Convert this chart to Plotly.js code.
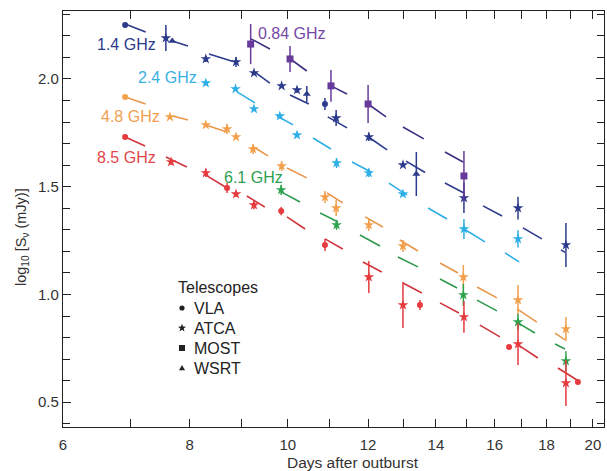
<!DOCTYPE html>
<html>
<head>
<meta charset="utf-8">
<script src="https://cdn.plot.ly/plotly-3.0.1.min.js"></script>
<style>html,body{margin:0;padding:0;background:#fff;}#chart{width:607px;height:471px;}</style>
</head>
<body>
<div id="chart"></div>
<script>
// ---- 1.4 GHz ----
const days14 = [6.91, 7.58, 7.69, 8.30, 8.89, 9.26, 9.86, 10.21, 10.44, 10.88, 11.16, 12.02, 12.99, 13.39, 14.92, 16.87, 18.81];
const flux14 = [2.251, 2.190, 2.176, 2.093, 2.079, 2.028, 1.968, 1.949, 1.930, 1.884, 1.819, 1.731, 1.601, 1.559, 1.448, 1.401, 1.230];
const err14  = [0, 0.060, 0, 0.014, 0.023, 0, 0, 0.014, 0.037, 0.028, 0.037, 0.019, 0.010, 0.102, 0.070, 0.053, 0.102];
const tel14  = ['VLA','ATCA','WSRT','ATCA','ATCA','ATCA','ATCA','ATCA','WSRT','VLA','ATCA','ATCA','ATCA','WSRT','ATCA','ATCA','ATCA'];
const seg14x0 = [6.91, 7.69, 8.36, 9.30, 10.05, 10.95, 12.05, 13.08, 14.29, 15.58, 17.06, 18.60];
const seg14y0 = [2.255, 2.176, 2.116, 2.028, 1.926, 1.824, 1.726, 1.619, 1.517, 1.411, 1.309, 1.207];
const seg14x1 = [7.24, 7.97, 8.83, 9.60, 10.49, 11.44, 12.53, 13.66, 14.92, 16.27, 17.81, 18.77];
const seg14y1 = [2.218, 2.153, 2.081, 1.981, 1.884, 1.773, 1.671, 1.566, 1.471, 1.364, 1.258, 1.195];

// ---- 0.84 GHz ----
const days084 = [9.19, 10.05, 11.03, 12.00, 14.92];
const flux084 = [2.162, 2.093, 1.968, 1.884, 1.550];
const err084  = [0.093, 0.060, 0.074, 0.088, 0.116];
const tel084  = ['MOST','MOST','MOST','MOST','MOST'];
const seg084x0 = [9.20, 10.09, 11.03, 12.00, 12.99, 14.29];
const seg084y0 = [2.186, 2.088, 1.968, 1.884, 1.777, 1.661];
const seg084x1 = [9.60, 10.44, 11.44, 12.50, 13.62, 14.89];
const seg084y1 = [2.139, 2.037, 1.930, 1.824, 1.722, 1.615];

// ---- 2.4 GHz ----
const days24 = [8.30, 8.88, 9.26, 9.82, 10.21, 11.17, 12.02, 12.99, 14.92, 16.87];
const flux24 = [1.981, 1.954, 1.861, 1.828, 1.740, 1.610, 1.564, 1.466, 1.304, 1.258];
const err24  = [0, 0, 0, 0, 0, 0.023, 0.019, 0, 0.046, 0.040];
const tel24  = ['ATCA','ATCA','ATCA','ATCA','ATCA','ATCA','ATCA','ATCA','ATCA','ATCA'];
const seg24x0 = [8.91, 9.76, 10.59, 11.57, 12.58, 13.75, 14.92, 16.38];
const seg24y0 = [1.940, 1.828, 1.726, 1.615, 1.517, 1.401, 1.304, 1.193];
const seg24x1 = [9.28, 10.12, 11.03, 12.08, 13.11, 14.36, 15.65, 16.91];
const seg24y1 = [1.889, 1.787, 1.675, 1.568, 1.462, 1.350, 1.244, 1.151];

// ---- 4.8 GHz ----
const days48 = [6.91, 7.65, 8.30, 8.71, 8.89, 9.24, 9.86, 10.88, 11.16, 12.02, 12.99, 14.90, 16.87, 18.81];
const flux48 = [1.916, 1.824, 1.787, 1.768, 1.731, 1.675, 1.596, 1.452, 1.401, 1.323, 1.225, 1.081, 0.974, 0.840];
const err48  = [0, 0, 0, 0.023, 0, 0.023, 0.023, 0.028, 0.037, 0.028, 0.028, 0.056, 0.070, 0.056];
const tel48  = ['VLA','ATCA','ATCA','ATCA','ATCA','ATCA','ATCA','ATCA','ATCA','ATCA','ATCA','ATCA','ATCA','ATCA'];
const seg48x0 = [6.91, 7.70, 8.30, 9.22, 9.98, 10.93, 11.92, 12.90, 14.13, 15.37, 16.83, 18.35];
const seg48y0 = [1.916, 1.828, 1.787, 1.689, 1.587, 1.471, 1.360, 1.253, 1.146, 1.035, 0.933, 0.821];
const seg48x1 = [7.24, 7.97, 8.71, 9.56, 10.44, 11.33, 12.41, 13.44, 14.72, 16.08, 17.61, 18.77];
const seg48y1 = [1.884, 1.810, 1.754, 1.643, 1.541, 1.425, 1.313, 1.202, 1.100, 0.984, 0.872, 0.789];

// ---- 6.1 GHz ----
const days61 = [9.85, 11.17, 14.90, 16.87, 18.81];
const flux61 = [1.485, 1.323, 0.998, 0.872, 0.691];
const err61  = [0.023, 0.023, 0.051, 0.037, 0.046];
const tel61  = ['ATCA','ATCA','ATCA','ATCA','ATCA'];
const seg61x0 = [9.85, 10.76, 11.78, 12.84, 14.13, 15.37, 16.87, 18.35];
const seg61y0 = [1.476, 1.378, 1.276, 1.174, 1.072, 0.974, 0.868, 0.770];
const seg61x1 = [10.28, 11.21, 12.33, 13.44, 14.69, 16.08, 17.53, 18.77];
const seg61y1 = [1.429, 1.336, 1.225, 1.128, 1.030, 0.924, 0.821, 0.747];

// ---- 8.5 GHz ----
const days85 = [6.91, 7.67, 8.30, 8.71, 8.89, 9.26, 9.85, 10.88, 12.02, 12.99, 13.50, 14.92, 16.53, 16.87, 18.81, 19.33];
const flux85 = [1.731, 1.615, 1.564, 1.494, 1.466, 1.415, 1.387, 1.230, 1.081, 0.951, 0.951, 0.896, 0.756, 0.770, 0.589, 0.594];
const err85  = [0, 0.014, 0.019, 0.023, 0.014, 0.019, 0.019, 0.028, 0.074, 0.107, 0.023, 0.074, 0, 0.097, 0.107, 0];
const tel85  = ['VLA','ATCA','ATCA','VLA','ATCA','ATCA','VLA','VLA','ATCA','ATCA','VLA','ATCA','VLA','ATCA','ATCA','VLA'];
const seg85x0 = [6.91, 7.58, 8.30, 9.11, 9.98, 10.88, 11.86, 12.99, 14.13, 15.47, 16.87, 18.47];
const seg85y0 = [1.731, 1.638, 1.554, 1.457, 1.360, 1.258, 1.151, 1.053, 0.961, 0.858, 0.766, 0.659];
const seg85x1 = [7.23, 7.95, 8.71, 9.49, 10.40, 11.33, 12.38, 13.56, 14.75, 16.19, 17.65, 19.29];
const seg85y1 = [1.689, 1.592, 1.494, 1.406, 1.304, 1.211, 1.104, 1.007, 0.914, 0.803, 0.705, 0.603];

const xTickVals = [6, 8, 10, 12, 14, 16, 18, 20];
const xTickText = ['6', '8', '10', '12', '14', '16', '18', '20'];
const xMinorVals = [7, 9, 11, 13, 15, 17, 19];
const yTickVals = [0.5, 1.0, 1.5, 2.0];
const yTickText = ['0.5', '1.0', '1.5', '2.0'];
const telescopes = ['VLA', 'ATCA', 'MOST', 'WSRT'];

const symbolOf = {VLA: 'circle', ATCA: 'star', MOST: 'square', WSRT: 'triangle-up'};
const sizeOf = {VLA: 6, ATCA: 8, MOST: 7, WSRT: 7};
const FONT = 'Liberation Sans, Arial, Helvetica, sans-serif';

const series = [
  {name: '1.4 GHz', color: '#2c3a8c', segColor: '#2c3a8c', d: days14, f: flux14, e: err14, t: tel14, sx0: seg14x0, sy0: seg14y0, sx1: seg14x1, sy1: seg14y1},
  {name: '0.84 GHz', color: '#673a9c', segColor: '#3f2f82', d: days084, f: flux084, e: err084, t: tel084, sx0: seg084x0, sy0: seg084y0, sx1: seg084x1, sy1: seg084y1},
  {name: '2.4 GHz', color: '#2eaee6', segColor: '#2eaee6', d: days24, f: flux24, e: err24, t: tel24, sx0: seg24x0, sy0: seg24y0, sx1: seg24x1, sy1: seg24y1},
  {name: '4.8 GHz', color: '#f3a04c', segColor: '#e8964a', d: days48, f: flux48, e: err48, t: tel48, sx0: seg48x0, sy0: seg48y0, sx1: seg48x1, sy1: seg48y1},
  {name: '6.1 GHz', color: '#2fa24e', segColor: '#2f9a4e', d: days61, f: flux61, e: err61, t: tel61, sx0: seg61x0, sy0: seg61y0, sx1: seg61x1, sy1: seg61y1},
  {name: '8.5 GHz', color: '#e53a3e', segColor: '#d0353c', d: days85, f: flux85, e: err85, t: tel85, sx0: seg85x0, sy0: seg85y0, sx1: seg85x1, sy1: seg85y1}
];

const traces = [];
// model segments (underneath)
series.forEach(s => {
  const x = [], y = [];
  for (let i = 0; i < s.sx0.length; i++) {
    x.push(s.sx0[i], s.sx1[i], null);
    y.push(s.sy0[i], s.sy1[i], null);
  }
  traces.push({type: 'scatter', mode: 'lines', x: x, y: y, line: {color: s.segColor, width: 1.6},
    showlegend: false, hoverinfo: 'skip', connectgaps: false});
});
// observations
series.forEach(s => {
  telescopes.forEach(tel => {
    const idx = s.t.map((v, i) => v === tel ? i : -1).filter(i => i >= 0);
    if (!idx.length) return;
    traces.push({
      type: 'scatter', mode: 'markers', name: s.name + ' ' + tel,
      x: idx.map(i => s.d[i]), y: idx.map(i => s.f[i]),
      error_y: {type: 'data', array: idx.map(i => s.e[i]), visible: true, color: s.color, thickness: 1.5, width: 0},
      marker: {symbol: symbolOf[tel], size: sizeOf[tel], color: s.color, line: {width: 0}},
      showlegend: false
    });
  });
});

const X0 = 63, X1 = 604, Y0 = 11, Y1 = 427;
const px = v => (v - X0) / (X1 - X0);
const py = v => (Y1 - v) / (Y1 - Y0);

const annotations = [];
const labelPos = [
  {name: '1.4 GHz', color: '#2c3a8c', x: 126.5, y: 44},
  {name: '0.84 GHz', color: '#7648a6', x: 292, y: 33},
  {name: '2.4 GHz', color: '#3bb0e2', x: 167.5, y: 77},
  {name: '4.8 GHz', color: '#f0a050', x: 130, y: 116},
  {name: '8.5 GHz', color: '#e2464a', x: 126, y: 157},
  {name: '6.1 GHz', color: '#2e9f50', x: 253, y: 177}
];
labelPos.forEach(l => annotations.push({xref: 'paper', yref: 'paper', x: px(l.x), y: py(l.y), text: l.name,
  showarrow: false, xanchor: 'center', yanchor: 'middle', font: {family: FONT, size: 16, color: l.color}}));

// legend: title + entries (text), keys drawn as small shapes
annotations.push({xref: 'paper', yref: 'paper', x: px(176), y: py(287), text: 'Telescopes', showarrow: false,
  xanchor: 'left', yanchor: 'middle', font: {family: FONT, size: 16, color: '#222'}});
const shapes = [];
function polyPath(pts) { return 'M' + pts.map(p => p[0].toFixed(2) + ',' + p[1].toFixed(2)).join('L') + 'Z'; }
const starPts = [];
for (let k = 0; k < 10; k++) {
  const r = k % 2 === 0 ? 4.2 : 1.8;
  const a = Math.PI / 2 + k * Math.PI / 5;
  starPts.push([r * Math.cos(a), r * Math.sin(a)]);
}
const keyShape = {
  VLA: {type: 'circle', x0: -2.6, x1: 2.6, y0: -2.6, y1: 2.6},
  ATCA: {type: 'path', path: polyPath(starPts)},
  MOST: {type: 'rect', x0: -3, x1: 3, y0: -3, y1: 3},
  WSRT: {type: 'path', path: polyPath([[-3, -2.2], [3, -2.2], [0, 3]])}
};
telescopes.forEach((tel, k) => {
  const yy = 308 + 20 * k;
  shapes.push(Object.assign({xref: 'paper', yref: 'paper', xsizemode: 'pixel', ysizemode: 'pixel',
    xanchor: px(182), yanchor: py(yy), fillcolor: '#222', line: {width: 0}, layer: 'above'}, keyShape[tel]));
  annotations.push({xref: 'paper', yref: 'paper', x: px(192), y: py(yy), text: tel, showarrow: false,
    xanchor: 'left', yanchor: 'middle', font: {family: FONT, size: 16, color: '#222'}});
});

// axis titles
annotations.push({xref: 'paper', yref: 'paper', x: px(353), y: py(462.5), text: 'Days after outburst', showarrow: false,
  xanchor: 'center', yanchor: 'middle', font: {family: FONT, size: 15.5, color: '#333'}});
annotations.push({xref: 'paper', yref: 'paper', x: px(22), y: py(237), text: 'log<sub>10</sub> [S<sub>ν</sub> (mJy)]', showarrow: false,
  textangle: -90, xanchor: 'center', yanchor: 'middle', font: {family: FONT, size: 14.5, color: '#333'}});

const layout = {
  width: 607, height: 471,
  margin: {l: X0, r: 607 - X1, t: Y0, b: 471 - Y1, pad: 0},
  paper_bgcolor: '#fff', plot_bgcolor: '#fff',
  showlegend: false,
  xaxis: {
    type: 'log', range: [Math.log10(6), Math.log10(20.51)],
    tickmode: 'array', tickvals: xTickVals, ticktext: xTickText,
    ticks: 'inside', ticklen: 8, tickwidth: 1, tickcolor: '#222',
    minor: {tickmode: 'array', tickvals: xMinorVals, ticks: 'inside', ticklen: 8, tickwidth: 1, tickcolor: '#222'},
    showline: true, linecolor: '#222', linewidth: 1.2, mirror: 'ticks',
    showgrid: false, zeroline: false, ticklabelstandoff: 4,
    tickfont: {family: FONT, size: 15, color: '#333'}
  },
  yaxis: {
    range: [0.385, 2.3155],
    tickmode: 'array', tickvals: yTickVals, ticktext: yTickText,
    ticks: 'inside', ticklen: 8, tickwidth: 1, tickcolor: '#222',
    minor: {tickmode: 'linear', tick0: 0, dtick: 0.1, ticks: 'inside', ticklen: 7, tickwidth: 1, tickcolor: '#222'},
    showline: true, linecolor: '#222', linewidth: 1.2, mirror: 'ticks',
    showgrid: false, zeroline: false,
    tickfont: {family: FONT, size: 15, color: '#333'}
  },
  annotations: annotations,
  shapes: shapes
};

Plotly.newPlot('chart', traces, layout, {staticPlot: true, displayModeBar: false});
</script>
</body>
</html>
